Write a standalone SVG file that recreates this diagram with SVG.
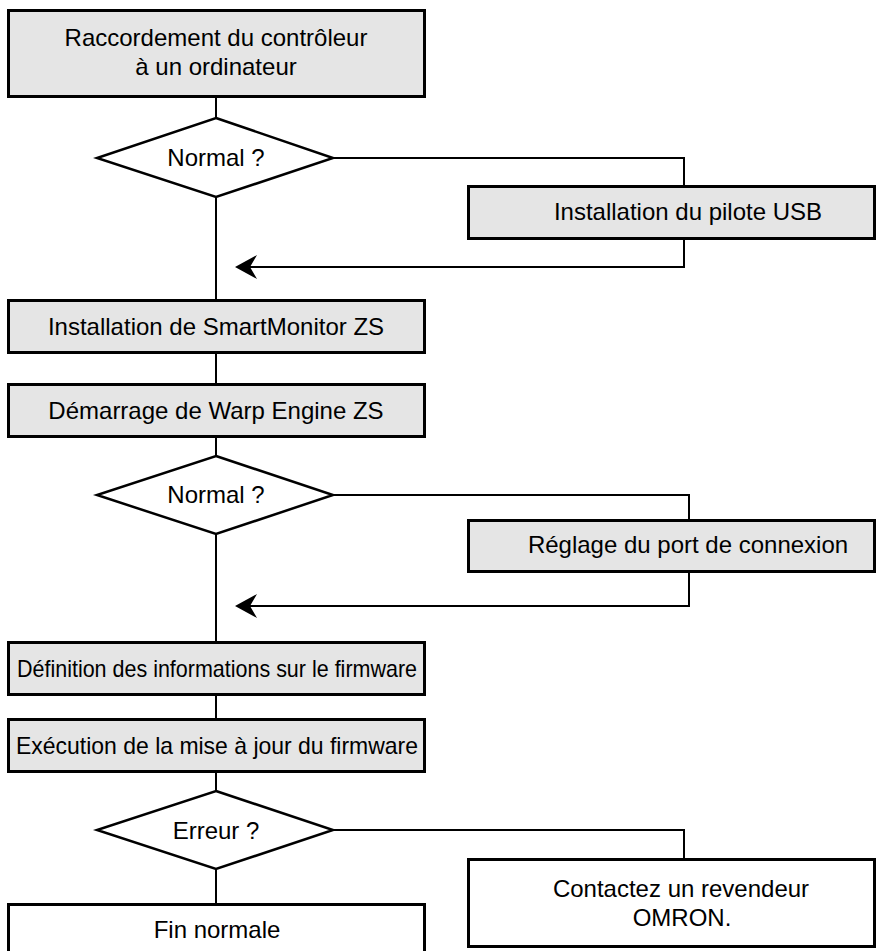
<svg xmlns="http://www.w3.org/2000/svg" width="876" height="951" viewBox="0 0 876 951">
<defs>
<style>
.box{fill:#e5e5e5;stroke:#000;stroke-width:3}
.wbox{fill:#fff;stroke:#000;stroke-width:3}
.dia{fill:#fff;stroke:#000;stroke-width:2.5}
.ln{fill:none;stroke:#000;stroke-width:2}
text{font-family:"Liberation Sans",Arial,sans-serif;font-size:24px;fill:#000;text-anchor:middle}
</style>
<marker id="arr" viewBox="0 0 22 24" refX="20" refY="12" markerWidth="22" markerHeight="24" markerUnits="userSpaceOnUse" orient="auto">
<path d="M22,12 L0,0 L7,12 L0,24 Z" fill="#000"/>
</marker>
</defs>
<rect width="876" height="951" fill="#fff"/>
<g id="connectors">
<line class="ln" x1="216" y1="97" x2="216" y2="118"/>
<line class="ln" x1="216" y1="197" x2="216" y2="300"/>
<polyline class="ln" points="333,158 684,158 684,186"/>
<polyline class="ln" points="684,239 684,267 237,267" marker-end="url(#arr)"/>
<line class="ln" x1="216" y1="353" x2="216" y2="384"/>
<line class="ln" x1="216" y1="437" x2="216" y2="456"/>
<polyline class="ln" points="333,495 689,495 689,521"/>
<line class="ln" x1="216" y1="534" x2="216" y2="642"/>
<polyline class="ln" points="689,571 689,606 237,606" marker-end="url(#arr)"/>
<line class="ln" x1="216" y1="695" x2="216" y2="719"/>
<line class="ln" x1="216" y1="772" x2="216" y2="791"/>
<line class="ln" x1="216" y1="869" x2="216" y2="904"/>
<polyline class="ln" points="333,830 684,830 684,860"/>
</g>
<g id="n1">
<rect class="box" x="8.5" y="10.5" width="416" height="86"/>
<text x="216" y="46">Raccordement du contrôleur</text>
<text x="216" y="75">à un ordinateur</text>
</g>
<g id="d1">
<polygon class="dia" points="216,118 333,158 216,197 97,158"/>
<text x="216" y="166">Normal ?</text>
</g>
<g id="n2">
<rect class="box" x="468.5" y="186.5" width="406" height="52"/>
<text x="688" y="220">Installation du pilote USB</text>
</g>
<g id="n3">
<rect class="box" x="8.5" y="300.5" width="416" height="52"/>
<text x="216" y="335">Installation de SmartMonitor ZS</text>
</g>
<g id="n4">
<rect class="box" x="8.5" y="384.5" width="416" height="52"/>
<text x="216" y="419">Démarrage de Warp Engine ZS</text>
</g>
<g id="d2">
<polygon class="dia" points="216,456 333,495 216,534 97,495"/>
<text x="216" y="503">Normal ?</text>
</g>
<g id="n5">
<rect class="box" x="468.5" y="520.5" width="406" height="51"/>
<text x="688" y="553">Réglage du port de connexion</text>
</g>
<g id="n6">
<rect class="box" x="8.5" y="642.5" width="416" height="52"/>
<text x="217" y="677" textLength="400" lengthAdjust="spacingAndGlyphs">Définition des informations sur le firmware</text>
</g>
<g id="n7">
<rect class="box" x="8.5" y="719.5" width="416" height="52"/>
<text x="217" y="754" textLength="402" lengthAdjust="spacingAndGlyphs">Exécution de la mise à jour du firmware</text>
</g>
<g id="d3">
<polygon class="dia" points="216,791 333,830 216,869 97,830"/>
<text x="216" y="839">Erreur ?</text>
</g>
<g id="n8">
<rect class="wbox" x="8.5" y="904.5" width="416" height="60"/>
<text x="217" y="938">Fin normale</text>
</g>
<g id="n9">
<rect class="wbox" x="468.5" y="859.5" width="406" height="87"/>
<text x="681" y="897">Contactez un revendeur</text>
<text x="682" y="926">OMRON.</text>
</g>
</svg>
